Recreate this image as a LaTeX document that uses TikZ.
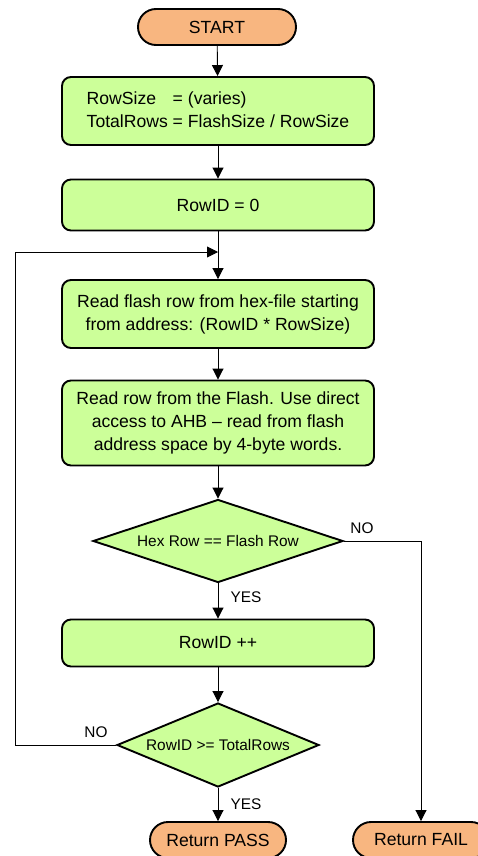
\documentclass[tikz,border=0pt]{standalone}
\usepackage{fontspec}
\setmainfont{Liberation Sans}
\usetikzlibrary{shapes.geometric,arrows.meta}

\definecolor{stepgreen}{RGB}{204,255,153}
\definecolor{termorange}{RGB}{248,182,128}

\tikzset{
	stepbox/.style={draw, line width=1.9pt, fill=stepgreen, rounded corners=9pt,
		minimum width=312pt, align=center, inner sep=0pt,
		font=\fontsize{17.6}{23}\selectfont},
	termbox/.style={draw, line width=1.9pt, fill=termorange, rounded corners=18pt,
		minimum width=136pt, minimum height=36pt, inner sep=0pt,
		font=\fontsize{17.6}{20}\selectfont},
	decision/.style={draw, diamond, aspect=3, line width=1.9pt, fill=stepgreen,
		inner sep=0pt, font=\fontsize{15.4}{18}\selectfont},
	flow/.style={-{Triangle[length=11pt,width=11pt]}, line width=0.9pt},
	answer/.style={font=\fontsize{15.4}{18}\selectfont}
}

\begin{document}
\begin{tikzpicture}[x=1pt,y=-1pt]
		\useasboundingbox[fill=white] (0,0) rectangle (478,856);

		\node[termbox, minimum width=158pt] (start) at (217,27) {START};

		\node[stepbox, minimum height=68pt] (sizes) at (218,111)
			{\begin{tabular}{@{}l@{ }l@{}}RowSize & = (varies)\\TotalRows & = FlashSize / RowSize\end{tabular}};
		\node[stepbox, minimum height=51pt] (init) at (218,205) {RowID = 0};
		\node[stepbox, minimum height=68pt] (readhex) at (218,314)
			{Read flash row from hex-file starting\\from address: (RowID * RowSize)};
		\node[stepbox, minimum height=85pt] (readflash) at (218,423)
			{Read row from the Flash. Use direct\\access to AHB -- read from flash\\address space by 4-byte words.};
		\node[decision, minimum width=250pt, minimum height=83pt] (compare) at (218,541) {Hex Row == Flash Row};
		\node[stepbox, minimum height=47pt] (next) at (218,643) {RowID ++};
		\node[decision, minimum width=202pt, minimum height=84pt] (done) at (218,745) {RowID >= TotalRows};

		\node[termbox] (pass) at (218,840) {Return PASS};
		\node[termbox] (fail) at (421,840) {Return FAIL};

		\coordinate (join) at (218,252);
		\coordinate (rail) at (15,252);

		\draw[flow] (start) -- (sizes);
		\draw[flow] (sizes) -- (init);
		\draw[flow] (init) -- (readhex);
		\draw[flow] (readhex) -- (readflash);
		\draw[flow] (readflash) -- (compare);
		\draw[flow] (compare) -- (next);
		\draw[flow] (next) -- (done);
		\draw[flow] (done) -- (pass);
		\draw[flow] (compare.east) -| (fail.north);
		\draw[flow] (done.west) -| (rail) -- (join);

		\node[answer] (no1) at (362,528) {NO};
		\node[answer] (yes1) at (246,597) {YES};
		\node[answer] (no2) at (96,732) {NO};
		\node[answer] (yes2) at (246,804) {YES};
	\end{tikzpicture}
\end{document}
